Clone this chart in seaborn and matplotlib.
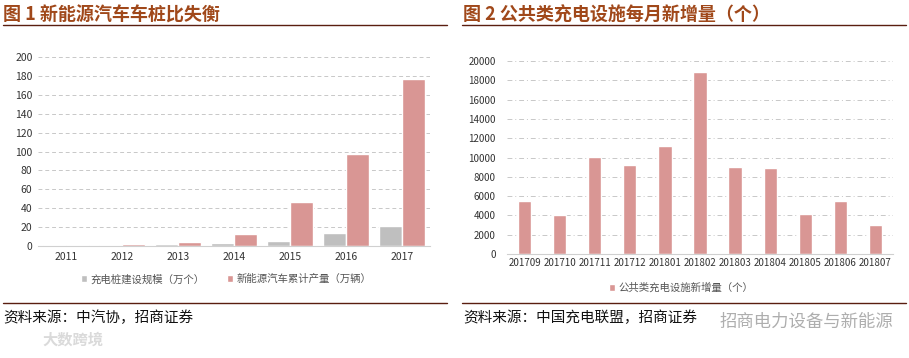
import pandas as pd
import numpy as np
import seaborn as sns
import matplotlib.pyplot as plt
from matplotlib.lines import Line2D

# data
years = ["2011", "2012", "2013", "2014", "2015", "2016", "2017"]
piles = [0.7, 1.4, 2.0, 3.2, 4.9, 14.1, 21.5]          # 充电桩建设规模（万个）
ev_output = [1.5, 2.5, 4.2, 12.3, 46.2, 97.5, 177.0]   # 新能源汽车累计产量（万辆）

months = ["201709", "201710", "201711", "201712", "201801", "201802",
          "201803", "201804", "201805", "201806", "201807"]
new_public = [5450, 4050, 10100, 9200, 11200, 18900, 9050, 8950, 4150, 5500, 3000]

pile_label = "充电桩建设规模（万个）"
ev_label = "新能源汽车累计产量（万辆）"
public_label = "公共类充电设施新增量（个）"

sns.set_style("white")
plt.rcParams['font.family'] = ['Noto Sans CJK SC', 'DejaVu Sans']

PINK = "#D99694"
GREY = "#BFBFBF"
TITLE_C = "#A0481A"
RULE_C = "#5A1E10"

fig = plt.figure(figsize=(9.09, 3.58), dpi=100)
W, H = 909, 358

def fx(px):
    return px / W

def fy(py):
    return 1 - py / H

# ---- left chart
df1 = pd.DataFrame({
    "year": years * 2,
    "value": piles + ev_output,
    "series": [pile_label] * len(years) + [ev_label] * len(years),
})
ax1 = fig.add_axes([fx(38), fy(246), fx(430 - 38), (246 - 57) / H])
sns.barplot(data=df1, x="year", y="value", hue="series", palette=[GREY, PINK],
            width=0.82, ax=ax1, saturation=1)
ax1.set_ylim(0, 200)
ax1.set_yticks(range(0, 201, 20))
ax1.set_xlabel("")
ax1.set_ylabel("")
ax1.yaxis.grid(True, color="#C8C8C8", linestyle=(0, (4, 3)), linewidth=0.7)
ax1.set_axisbelow(True)
ax1.tick_params(axis="both", length=0, labelsize=7.5, colors="#333333", pad=4)
for s in ["left", "right", "top"]:
    ax1.spines[s].set_visible(False)
ax1.spines["bottom"].set_color("#D0D0D0")
ax1.legend(loc="center", bbox_to_anchor=(fx(226 - 38) / fx(430 - 38), -0.175),
           ncol=2, frameon=False, fontsize=7.5, handlelength=0.6, handleheight=0.6,
           handletextpad=0.3, columnspacing=2.2, labelcolor="#555555")

# ---- right chart
df2 = pd.DataFrame({"month": months, "value": new_public})
ax2 = fig.add_axes([fx(507), fy(254), fx(893 - 507), (254 - 61) / H])
sns.barplot(data=df2, x="month", y="value", color=PINK, width=0.38,
            ax=ax2, saturation=1, label=public_label)
ax2.set_ylim(0, 20000)
ax2.set_yticks(range(0, 20001, 2000))
ax2.set_xlabel("")
ax2.set_ylabel("")
ax2.yaxis.grid(True, color="#C8C8C8", linestyle=(0, (5, 3, 1, 3)), linewidth=0.7)
ax2.set_axisbelow(True)
ax2.tick_params(axis="y", length=0, labelsize=7, colors="#333333", pad=8)
ax2.tick_params(axis="x", length=0, labelsize=7, colors="#333333", pad=3)
for s in ["left", "right", "top"]:
    ax2.spines[s].set_visible(False)
ax2.spines["bottom"].set_color("#D0D0D0")
ax2.legend(loc="center", bbox_to_anchor=(fx(681 - 507) / fx(893 - 507), -0.175),
           frameon=False, fontsize=7.5, handlelength=0.6, handleheight=0.6,
           handletextpad=0.3, labelcolor="#555555")

# ---- titles, rules, sources
fig.text(fx(3), fy(15), "图 1 新能源汽车车桩比失衡", fontsize=13, fontweight="bold",
         color=TITLE_C, va="center", ha="left")
fig.text(fx(463), fy(15), "图 2 公共类充电设施每月新增量（个）", fontsize=13,
         fontweight="bold", color=TITLE_C, va="center", ha="left")
for x0, x1 in [(3, 447), (462, 906)]:
    fig.add_artist(Line2D([fx(x0), fx(x1)], [fy(25), fy(25)], color=RULE_C, linewidth=1))
    fig.add_artist(Line2D([fx(x0), fx(x1)], [fy(303), fy(303)], color=RULE_C, linewidth=1))

fig.text(fx(3), fy(318), "资料来源：中汽协，招商证券", fontsize=10.5, color="#111111",
         va="center", ha="left")
fig.text(fx(463), fy(318), "资料来源：中国充电联盟，招商证券", fontsize=10.5, color="#111111",
         va="center", ha="left")

# watermarks
fig.text(fx(720), fy(322), "招商电力设备与新能源", fontsize=12.5, color="#9A9A9A",
         alpha=0.8, va="center", ha="left")
fig.text(fx(42), fy(340), "大数跨境", fontsize=11, color="#DADADA",
         fontweight="bold", va="center", ha="left")

fig.savefig("out.png", dpi=100)
